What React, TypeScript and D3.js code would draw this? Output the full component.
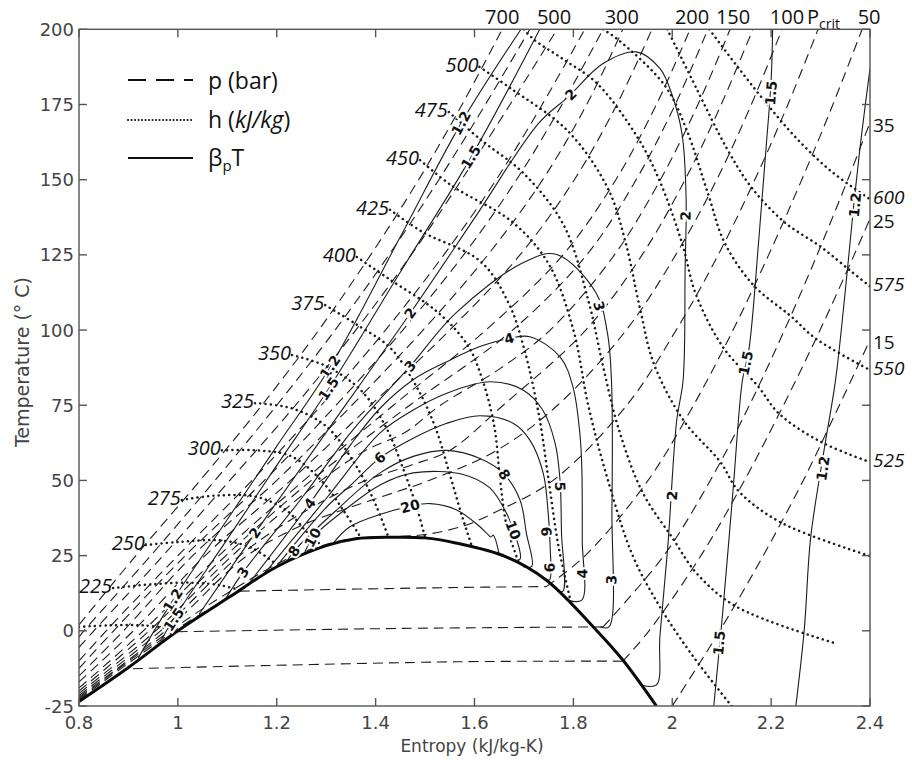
import React from "react";
import * as d3 from "d3";

type Pt = [number, number];

// ---------------- axes ----------------
const entropyTicks = [0.8, 1, 1.2, 1.4, 1.6, 1.8, 2, 2.2, 2.4];
const entropyTickLabels = ["0.8", "1", "1.2", "1.4", "1.6", "1.8", "2", "2.2", "2.4"];
const temperatureTicks = [-25, 0, 25, 50, 75, 100, 125, 150, 175, 200];

// ---------------- saturation dome ----------------
const saturationDome: Pt[] = [
  [0.8, -23.5], [0.9, -12.2], [1.0, 0], [1.105, 11.3], [1.2, 21.3], [1.3, 28.3], [1.36, 30.6],
  [1.43, 31.1], [1.5, 30.9], [1.562, 29.2], [1.664, 24.6], [1.745, 16.9], [1.846, 0.3], [1.9, -9.7], [1.968, -25],
];

// ---------------- isobars (bar) ----------------
const isobar700: Pt[] = [[0.8, 2], [0.915, 25], [1.045, 50], [1.17, 75], [1.285, 100], [1.39, 125], [1.487, 150], [1.575, 175], [1.656, 200]];
const isobar600: Pt[] = [[0.8, -2], [0.81, 0], [0.945, 25], [1.075, 50], [1.2, 75], [1.318, 100], [1.427, 125], [1.528, 150], [1.622, 175], [1.712, 200]];
const isobar500: Pt[] = [[0.8, -5.5], [0.83, 0], [0.97, 25], [1.105, 50], [1.238, 75], [1.36, 100], [1.472, 125], [1.574, 150], [1.672, 175], [1.767, 200]];
const isobar400: Pt[] = [[0.8, -10], [0.855, 0], [1.0, 25], [1.15, 50], [1.29, 75], [1.42, 100], [1.538, 125], [1.644, 150], [1.737, 175], [1.823, 200]];
const isobar350: Pt[] = [[0.8, -12.5], [0.87, 0], [1.015, 25], [1.175, 50], [1.32, 75], [1.455, 100], [1.578, 125], [1.685, 150], [1.777, 175], [1.86, 200]];
const isobar300: Pt[] = [[0.8, -15], [0.89, 0], [1.03, 25], [1.2, 50], [1.352, 75], [1.496, 100], [1.627, 125], [1.738, 150], [1.827, 175], [1.9, 200]];
const isobar250: Pt[] = [[0.8, -17], [0.91, 0], [1.055, 25], [1.228, 50], [1.39, 75], [1.55, 100], [1.692, 125], [1.802, 150], [1.888, 175], [1.959, 200]];
const isobar200: Pt[] = [[0.8, -19], [0.93, 0], [1.083, 25], [1.255, 50], [1.436, 75], [1.623, 100], [1.779, 125], [1.886, 150], [1.968, 175], [2.036, 200]];
const isobar175: Pt[] = [[0.8, -20], [0.942, 0], [1.097, 25], [1.27, 50], [1.469, 75], [1.677, 100], [1.827, 125], [1.927, 150], [2.006, 175], [2.072, 200]];
const isobar150: Pt[] = [[0.8, -20.8], [0.955, 0], [1.11, 25], [1.29, 50], [1.38, 60], [1.46, 66], [1.531, 75], [1.65, 87], [1.753, 100], [1.883, 125], [1.976, 150], [2.052, 175], [2.117, 200]];
const isobar125: Pt[] = [[0.8, -21.5], [0.965, 0], [1.125, 25], [1.26, 40], [1.38, 50], [1.47, 55], [1.55, 60], [1.658, 75], [1.825, 100], [1.939, 125], [2.026, 150], [2.099, 175], [2.163, 200]];
const isobar100: Pt[] = [[0.8, -22], [0.975, 0], [1.14, 25], [1.25, 35], [1.33, 40], [1.42, 45], [1.508, 50], [1.645, 60], [1.768, 75], [1.907, 100], [2.007, 125], [2.09, 150], [2.16, 175], [2.222, 200]];
const isobarCrit: Pt[] = [[0.8, -22.5], [0.985, 0], [1.1, 12.5], [1.24, 25.3], [1.35, 30.6], [1.43, 31.3], [1.5, 32], [1.58, 35], [1.649, 40], [1.759, 50], [1.908, 75], [2.008, 100], [2.093, 125], [2.167, 150], [2.234, 175], [2.295, 200]];
const isobar50Liquid: Pt[] = [[0.8, -22.9], [1.0, 0.8], [1.126, 13.2]];
const isobar50TwoPhase: Pt[] = [[1.126, 13.2], [1.56, 14.4], [1.745, 14.7]];
const isobar50Vapour: Pt[] = [[1.745, 14.7], [1.824, 25], [1.951, 50], [2.043, 75], [2.123, 100], [2.195, 125], [2.262, 150], [2.325, 175], [2.384, 200]];
const isobar35TwoPhase: Pt[] = [[1.0, -0.3], [1.456, 0.8], [1.86, 1.3]];
const isobar35Vapour: Pt[] = [[1.86, 1.3], [1.983, 25], [2.077, 50], [2.156, 75], [2.227, 100], [2.293, 125], [2.355, 150], [2.4, 169]];
const isobar25TwoPhase: Pt[] = [[0.909, -12.6], [1.562, -10.3], [1.9, -10.1]];
const isobar25Vapour: Pt[] = [[1.9, -10.1], [1.953, 0], [2.058, 25], [2.146, 50], [2.225, 75], [2.299, 100], [2.368, 125], [2.4, 137]];
const isobar15Vapour: Pt[] = [[2.0, -25], [2.096, 0], [2.184, 25], [2.265, 50], [2.338, 75], [2.4, 96.7]];

// ---------------- isenthalps (kJ/kg) ----------------
const enthalpy200: Pt[] = [[0.8, 1.3], [0.86, 1.8], [0.93, 1.8], [0.995, 0.5]];
const enthalpy225: Pt[] = [[0.869, 14.2], [0.95, 15.5], [1.03, 16], [1.09, 15], [1.125, 13.5]];
const enthalpy250: Pt[] = [[0.935, 28.5], [1.0, 29.5], [1.09, 30], [1.15, 27.5], [1.2, 22]];
const enthalpy275: Pt[] = [[1.008, 43.5], [1.08, 45], [1.16, 44.5], [1.22, 40], [1.26, 33], [1.29, 28.5]];
const enthalpy300: Pt[] = [[1.089, 60], [1.16, 60], [1.23, 58], [1.29, 50], [1.335, 40], [1.37, 31]];
const enthalpy325: Pt[] = [[1.156, 75.7], [1.23, 74], [1.3, 68], [1.36, 55], [1.4, 42], [1.425, 31.5]];
const enthalpy350: Pt[] = [[1.231, 91.7], [1.3, 88], [1.37, 80], [1.42, 68], [1.46, 52], [1.485, 40], [1.5, 31]];
const enthalpy375: Pt[] = [[1.298, 108.3], [1.36, 102], [1.43, 94], [1.48, 82], [1.52, 68], [1.55, 52], [1.575, 38], [1.595, 28]];
const enthalpy400: Pt[] = [[1.362, 124.3], [1.427, 117], [1.525, 106], [1.586, 95], [1.615, 84], [1.64, 68], [1.652, 50], [1.665, 35], [1.69, 22.5]];
const enthalpy425: Pt[] = [[1.429, 140], [1.494, 132.7], [1.613, 122.7], [1.67, 108.6], [1.7, 94], [1.73, 72], [1.75, 50], [1.77, 28], [1.795, 9.5]];
const enthalpy450: Pt[] = [[1.49, 156.5], [1.554, 148], [1.676, 136], [1.75, 122], [1.8, 100], [1.83, 75], [1.87, 50], [1.92, 25], [1.975, 8], [2.04, -8], [2.12, -25]];
const enthalpy475: Pt[] = [[1.548, 172.5], [1.611, 163.5], [1.7, 152], [1.78, 135], [1.83, 110], [1.86, 88], [1.89, 68], [1.94, 46], [2.0, 31], [2.05, 19], [2.13, 8], [2.333, -4.3]];
const enthalpy500: Pt[] = [[1.61, 187.5], [1.672, 180.5], [1.79, 166], [1.87, 147], [1.905, 129.5], [1.935, 107], [1.963, 88.7], [2.024, 69.7], [2.097, 56.2], [2.134, 46.5], [2.22, 36], [2.4, 24.9]];
const enthalpy525: Pt[] = [[1.7, 200], [1.72, 196.6], [1.78, 190], [1.848, 182], [1.93, 164], [1.975, 149.4], [2.02, 128.8], [2.048, 111.8], [2.104, 94], [2.174, 81.2], [2.216, 72.2], [2.302, 62.7], [2.4, 56.1]];
const enthalpy550: Pt[] = [[1.86, 200], [1.89, 196.6], [1.985, 181.3], [2.028, 167], [2.073, 145], [2.106, 129], [2.165, 114.8], [2.24, 104.6], [2.29, 97.2], [2.4, 86.7]];
const enthalpy575: Pt[] = [[1.99, 200], [2.05, 180], [2.11, 160.5], [2.16, 147.5], [2.226, 136], [2.302, 127.5], [2.362, 119.5], [2.4, 114.5]];
const enthalpy600: Pt[] = [[2.075, 200], [2.13, 188], [2.19, 175.5], [2.25, 164], [2.32, 153], [2.4, 143.5]];

// ---------------- beta_p * T contours ----------------
const beta12Liquid: Pt[] = [[0.92, -9], [0.99, 10.2], [1.1, 37], [1.2, 61.4], [1.308, 87.7], [1.45, 131], [1.573, 168.8], [1.694, 200]];
const beta12Vapour: Pt[] = [[2.4, 187], [2.383, 165], [2.368, 143], [2.35, 113], [2.33, 83], [2.308, 61], [2.28, 31], [2.267, 0.3], [2.25, -25]];
const beta15Liquid: Pt[] = [[0.965, -3.5], [0.99, 3.6], [1.1, 30.5], [1.2, 55], [1.305, 80.5], [1.45, 119.3], [1.593, 157.5], [1.732, 200]];
const beta15Vapour: Pt[] = [[2.203, 200], [2.2, 183], [2.19, 161], [2.175, 130], [2.155, 93.4], [2.142, 83.4], [2.123, 46.8], [2.102, 5.9], [2.084, -25]];
const beta2: Pt[] = [[1.043, 5.5], [1.156, 32.5], [1.3, 66], [1.47, 105.6], [1.6, 137.2], [1.73, 168.8], [1.79, 177.6], [1.86, 188.6], [1.927, 192.5], [1.975, 187], [2.0, 178], [2.02, 165], [2.028, 144], [2.026, 120], [2.022, 83.4], [2.009, 70], [1.991, 28], [1.975, -2], [1.968, -18], [1.937, -18]];
const beta3: Pt[] = [[1.095, 10.2], [1.132, 19.5], [1.25, 44], [1.35, 66], [1.42, 79], [1.47, 88], [1.562, 105.6], [1.697, 122.3], [1.765, 125.2], [1.846, 112.3], [1.869, 98.9], [1.877, 83.4], [1.878, 40], [1.872, 1.3], [1.855, 1.3]];
const beta4: Pt[] = [[1.145, 16], [1.267, 42.4], [1.35, 62], [1.409, 74], [1.476, 83.5], [1.544, 89.5], [1.611, 94.5], [1.67, 97.2], [1.712, 97.8], [1.773, 91.1], [1.799, 81.2], [1.813, 65.8], [1.817, 54.6], [1.818, 30], [1.817, 10.2], [1.787, 10.2]];
const beta5: Pt[] = [[1.175, 19], [1.3, 44], [1.409, 65.8], [1.476, 73.4], [1.544, 79], [1.631, 82.8], [1.698, 80.1], [1.738, 73.4], [1.763, 62.4], [1.773, 50.1], [1.776, 32.5], [1.779, 13.2], [1.767, 13.2]];
const beta6: Pt[] = [[1.195, 20.5], [1.3, 41], [1.35, 48.5], [1.409, 57.5], [1.476, 64], [1.544, 69], [1.611, 71.5], [1.678, 69], [1.712, 63.4], [1.739, 52.4], [1.749, 39.2], [1.753, 28], [1.752, 17], [1.744, 17]];
const beta8: Pt[] = [[1.222, 23.5], [1.235, 26.5], [1.32, 40], [1.409, 52.5], [1.476, 58], [1.544, 60], [1.611, 57.3], [1.658, 52.4], [1.692, 43.5], [1.705, 32.4], [1.716, 21.4], [1.698, 21.4]];
const beta10: Pt[] = [[1.255, 25.4], [1.273, 31], [1.34, 40.5], [1.409, 48.5], [1.476, 52.5], [1.577, 52], [1.631, 47.5], [1.665, 39], [1.686, 30], [1.692, 23.8], [1.672, 23.8]];
const beta20: Pt[] = [[1.314, 29.1], [1.348, 34.6], [1.415, 39], [1.47, 41.4], [1.51, 42.3], [1.564, 40.2], [1.611, 34.6], [1.625, 32.4], [1.633, 31.2], [1.638, 31.8], [1.65, 25.3]];

// contour label anchors (s, T)
const beta12Labels: Pt[] = [[0.99, 10.2], [1.308, 87.7], [1.573, 168.8], [2.37, 141.6], [2.305, 54]];
const beta15Labels: Pt[] = [[0.992, 3.8], [1.305, 80.5], [1.593, 157.5], [2.2, 178.8], [2.149, 89], [2.095, -4]];
const beta2Labels: Pt[] = [[1.156, 32.5], [1.47, 105.6], [1.795, 178.3], [2.027, 138], [2.0, 45]];
const beta3Labels: Pt[] = [[1.132, 19.5], [1.47, 88], [1.852, 108], [1.877, 17]];
const beta4Labels: Pt[] = [[1.267, 42.4], [1.67, 97.2], [1.818, 19]];
const beta5Labels: Pt[] = [[1.773, 48]];
const beta6Labels: Pt[] = [[1.409, 57.5], [1.745, 33], [1.752, 21]];
const beta8Labels: Pt[] = [[1.235, 26.5], [1.66, 52]];
const beta10Labels: Pt[] = [[1.273, 31], [1.678, 33.5]];
const beta20Labels: Pt[] = [[1.47, 41.4]];

// ---------------- groupings ----------------
const isobarSegments: Pt[][] = [
  isobar700, isobar600, isobar500, isobar400, isobar350, isobar300, isobar250, isobar200, isobar175,
  isobar150, isobar125, isobar100, isobarCrit, isobar50Liquid, isobar50TwoPhase, isobar50Vapour,
  isobar35TwoPhase, isobar35Vapour, isobar25TwoPhase, isobar25Vapour, isobar15Vapour,
];
const topPressureLabels: { text: string; pts: Pt[] }[] = [
  { text: "700", pts: isobar700 }, { text: "500", pts: isobar500 }, { text: "300", pts: isobar300 },
  { text: "200", pts: isobar200 }, { text: "150", pts: isobar150 }, { text: "100", pts: isobar100 },
  { text: "Pcrit", pts: isobarCrit }, { text: "50", pts: isobar50Vapour },
];
const rightPressureLabels: { text: string; pts: Pt[] }[] = [
  { text: "35", pts: isobar35Vapour }, { text: "25", pts: isobar25Vapour }, { text: "15", pts: isobar15Vapour },
];
const isenthalps: { h: string; pts: Pt[]; side: "left" | "right" | "none" }[] = [
  { h: "200", pts: enthalpy200, side: "none" }, { h: "225", pts: enthalpy225, side: "left" },
  { h: "250", pts: enthalpy250, side: "left" }, { h: "275", pts: enthalpy275, side: "left" },
  { h: "300", pts: enthalpy300, side: "left" }, { h: "325", pts: enthalpy325, side: "left" },
  { h: "350", pts: enthalpy350, side: "left" }, { h: "375", pts: enthalpy375, side: "left" },
  { h: "400", pts: enthalpy400, side: "left" }, { h: "425", pts: enthalpy425, side: "left" },
  { h: "450", pts: enthalpy450, side: "left" }, { h: "475", pts: enthalpy475, side: "left" },
  { h: "500", pts: enthalpy500, side: "left" }, { h: "525", pts: enthalpy525, side: "right" },
  { h: "550", pts: enthalpy550, side: "right" }, { h: "575", pts: enthalpy575, side: "right" },
  { h: "600", pts: enthalpy600, side: "right" },
];
const betaContours: { value: string; pts: Pt[]; labels: Pt[] }[] = [
  { value: "1.2", pts: beta12Liquid, labels: beta12Labels.slice(0, 3) },
  { value: "1.2", pts: beta12Vapour, labels: beta12Labels.slice(3) },
  { value: "1.5", pts: beta15Liquid, labels: beta15Labels.slice(0, 3) },
  { value: "1.5", pts: beta15Vapour, labels: beta15Labels.slice(3) },
  { value: "2", pts: beta2, labels: beta2Labels },
  { value: "3", pts: beta3, labels: beta3Labels },
  { value: "4", pts: beta4, labels: beta4Labels },
  { value: "5", pts: beta5, labels: beta5Labels },
  { value: "6", pts: beta6, labels: beta6Labels },
  { value: "8", pts: beta8, labels: beta8Labels },
  { value: "10", pts: beta10, labels: beta10Labels },
  { value: "20", pts: beta20, labels: beta20Labels },
];

const AXIS_FONT = "'DejaVu Sans', 'Liberation Sans', sans-serif";
const NOTE_FONT = "'Open Sans', 'DejaVu Sans', sans-serif";
// small horizontal nudges (px) for the pressure labels along the top edge
const TOP_LABEL_NUDGE: Record<string, number> = { "700": 0, "500": -3, "300": -1, "200": 2, "150": 3, "100": 5, Pcrit: -11, "50": 7 };

export default function App() {
  const left = 79, right = 870, top = 29.3, bottom = 706;
  const x = d3.scaleLinear().domain([0.8, 2.4]).range([left, right]);
  const y = d3.scaleLinear().domain([-25, 200]).range([bottom, top]);
  const line = d3.line<Pt>().x((d) => x(d[0])).y((d) => y(d[1])).curve(d3.curveCatmullRom.alpha(0.5));

  const angleAt = (pts: Pt[], p: Pt) => {
    const px = x(p[0]), py = y(p[1]);
    let best = Infinity, ang = 0;
    for (let i = 0; i < pts.length - 1; i++) {
      const ax = x(pts[i][0]), ay = y(pts[i][1]), bx = x(pts[i + 1][0]), by = y(pts[i + 1][1]);
      const dx = bx - ax, dy = by - ay, L = dx * dx + dy * dy;
      let t = L ? ((px - ax) * dx + (py - ay) * dy) / L : 0;
      t = Math.max(0, Math.min(1, t));
      const qx = ax + t * dx, qy = ay + t * dy;
      const d = (px - qx) ** 2 + (py - qy) ** 2;
      if (d < best) { best = d; ang = (Math.atan2(dy, dx) * 180) / Math.PI; }
    }
    if (ang > 90) ang -= 180;
    if (ang <= -90) ang += 180;
    return ang;
  };

  const ink = "#1c1c1c";

  return (
    <svg width={912} height={761} style={{ position: "absolute", left: 0, top: 0, background: "#fff" }}>
      <defs>
        <clipPath id="plotArea">
          <rect x={left} y={top} width={right - left} height={bottom - top} />
        </clipPath>
      </defs>
      <rect x={0} y={0} width={912} height={761} fill="#fff" />

      <g clipPath="url(#plotArea)" fill="none">
        {isobarSegments.map((pts, i) => (
          <path key={"p" + i} d={line(pts) || ""} stroke={ink} strokeWidth={1.1} strokeDasharray="10 6" />
        ))}
        {isenthalps.map((c, i) => (
          <path key={"h" + i} d={line(c.pts) || ""} stroke={ink} strokeWidth={2.5} strokeDasharray="0.1 5.2" strokeLinecap="round" />
        ))}
        {betaContours.map((c, i) => (
          <path key={"b" + i} d={line(c.pts) || ""} stroke={ink} strokeWidth={1.1} />
        ))}
        <path d={line(saturationDome) || ""} stroke="#0a0a0a" strokeWidth={3} />
      </g>

      {/* contour labels */}
      <g fontFamily={AXIS_FONT} fontWeight="bold" fontSize={14} fill="#111">
        {betaContours.map((c, i) =>
          c.labels.map((p, j) => {
            const a = angleAt(c.pts, p);
            const px = x(p[0]), py = y(p[1]);
            return (
              <text key={`bl${i}-${j}`} x={px} y={py} dy="0.35em" textAnchor="middle"
                transform={`rotate(${a},${px},${py})`} stroke="#fff" strokeWidth={4}
                style={{ paintOrder: "stroke" } as any}>
                {c.value}
              </text>
            );
          })
        )}
      </g>

      {/* isenthalp labels */}
      <g fontFamily={NOTE_FONT} fontStyle="italic" fontSize={20} fill="#111">
        {isenthalps.filter((c) => c.side === "left").map((c) => {
          const p = c.pts[0];
          return (
            <text key={"hl" + c.h} x={x(p[0]) - 1} y={y(p[1]) + 5} textAnchor="end">{c.h}</text>
          );
        })}
        {isenthalps.filter((c) => c.side === "right").map((c) => {
          const p = c.pts[c.pts.length - 1];
          return (
            <text key={"hr" + c.h} x={right + 3} y={y(p[1]) + 5} textAnchor="start" fontSize={19}>{c.h}</text>
          );
        })}
      </g>

      {/* pressure labels */}
      <g fontFamily={NOTE_FONT} fontSize={20} fill="#111">
        {topPressureLabels.map((c) => {
          const p = c.pts[c.pts.length - 1];
          const px = x(p[0]) + (TOP_LABEL_NUDGE[c.text] || 0);
          if (c.text === "Pcrit") {
            return (
              <text key="pcrit" x={px} y={24}>
                P<tspan fontSize={14} dy={5}>crit</tspan>
              </text>
            );
          }
          return (
            <text key={"pt" + c.text} x={px} y={24} textAnchor="middle">{c.text}</text>
          );
        })}
        {rightPressureLabels.map((c) => {
          const p = c.pts[c.pts.length - 1];
          return (
            <text key={"pr" + c.text} x={right + 3} y={y(p[1]) + 9} fontSize={19}>{c.text}</text>
          );
        })}
      </g>

      {/* frame and ticks */}
      <g stroke="#555" strokeWidth={1.4} fill="none">
        <rect x={left} y={top} width={right - left} height={bottom - top} />
        {entropyTicks.map((t) => (
          <g key={"xt" + t}>
            <line x1={x(t)} x2={x(t)} y1={bottom} y2={bottom - 8} />
            <line x1={x(t)} x2={x(t)} y1={top} y2={top + 8} />
          </g>
        ))}
        {temperatureTicks.map((t) => (
          <g key={"yt" + t}>
            <line x1={left} x2={left + 8} y1={y(t)} y2={y(t)} />
            <line x1={right} x2={right - 8} y1={y(t)} y2={y(t)} />
          </g>
        ))}
      </g>

      <g fontFamily={AXIS_FONT} fontSize={18} fill="#444">
        {entropyTicks.map((t, i) => (
          <text key={"xl" + t} x={x(t)} y={729} textAnchor="middle">{entropyTickLabels[i]}</text>
        ))}
        {temperatureTicks.map((t) => (
          <text key={"yl" + t} x={74} y={y(t) + 6.5} textAnchor="end">{t}</text>
        ))}
        <text x={472} y={752} textAnchor="middle" fontSize={17}>Entropy (kJ/kg-K)</text>
        <text x={0} y={0} transform="translate(22,362) rotate(-90)" textAnchor="middle" dominantBaseline="central" fontSize={19}>
          Temperature (° C)
        </text>
      </g>

      {/* legend */}
      <g>
        <line x1={128} x2={193} y1={80} y2={80} stroke="#111" strokeWidth={2} strokeDasharray="18 10" />
        <line x1={128} x2={193} y1={120} y2={120} stroke="#111" strokeWidth={2} strokeDasharray="0.1 3.4" strokeLinecap="round" />
        <line x1={128} x2={193} y1={158} y2={158} stroke="#111" strokeWidth={2} />
        <g fontFamily={NOTE_FONT} fontSize={23} fill="#111">
          <text x={208} y={89}>p (bar)</text>
          <text x={208} y={128}>h (<tspan fontStyle="italic">kJ/kg</tspan>)</text>
          <text x={208} y={166}>β<tspan fontSize={15} dy={5}>p</tspan><tspan dy={-5}>T</tspan></text>
        </g>
      </g>
    </svg>
  );
}
